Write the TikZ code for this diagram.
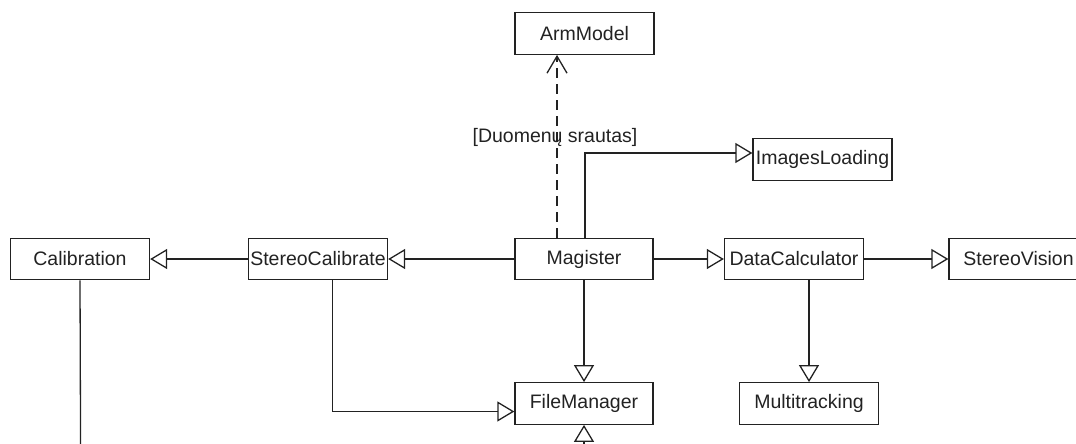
\documentclass[tikz,border=0pt]{standalone}
\usepackage{fontspec}
\setmainfont{Liberation Sans}
\usetikzlibrary{arrows.meta}
\definecolor{ink}{HTML}{222222}
\tikzset{
  cls/.style={draw=ink, line width=1.3pt, fill=white, minimum width=139pt, minimum height=41.5pt,
    inner sep=0pt, text=ink, font=\fontsize{19.5}{23}\selectfont},
  gen/.style={draw=ink, line width=1.3pt, -{Triangle[open, length=17pt, width=20pt]}},
  plain/.style={draw=ink, line width=1.3pt},
  dep/.style={draw=ink, line width=1.3pt, dash pattern=on 10pt off 6pt, -{Straight Barb[length=17pt, width=20pt]}},
  lbl/.style={text=ink, font=\fontsize{19.5}{23}\selectfont, inner sep=0pt}
}
\begin{document}
\begin{tikzpicture}[x=1pt,y=-1pt]
\useasboundingbox (0,0) rectangle (1076,444);
\clip (0,0) rectangle (1076,444);
\node[cls] (arm) at (584.5,33.5) {ArmModel};
\node[cls] (img) at (822.5,159.5) {ImagesLoading};
\node[cls] (cal) at (80,259) {Calibration};
\node[cls] (sc) at (318,259) {StereoCalibrate};
\node[cls, minimum width=138pt] (mag) at (584,259) {Magister};
\node[cls] (dc) at (794,259) {DataCalculator};
\node[cls] (sv) at (1018.5,259) {StereoVision};
\node[cls, minimum width=138pt] (fm) at (584,403.5) {FileManager};
\node[cls, minimum width=139.5pt] (mt) at (809,403.5) {Multitracking};
\coordinate (calend) at (80.6,452);
\coordinate (fmin) at (584,452);
\draw[dep] ([xshift=-27pt]mag.north) -- ([xshift=-27pt]mag.north |- arm.south);
\node[lbl] (flow) at (555,137) {[Duomenų srautas]};
\draw[gen] ([xshift=1pt]mag.north) |- ([yshift=6.5pt]img.west);
\draw[gen] (sc.west) -- (cal.east);
\draw[gen] (mag.west) -- (sc.east);
\draw[gen] (mag.east) -- (dc.west);
\draw[gen] (dc.east) -- (sv.west);
\draw[gen] (mt.north |- dc.south) -- (mt.north);
\draw[gen] (mag.south) -- (fm.north);
\draw[gen] ([xshift=14.5pt]sc.south) |- ([yshift=-8pt]fm.west);
\draw[plain] (cal.south) -- (calend);
\draw[gen] (fmin) -- (fm.south);
\end{tikzpicture}
\end{document}
